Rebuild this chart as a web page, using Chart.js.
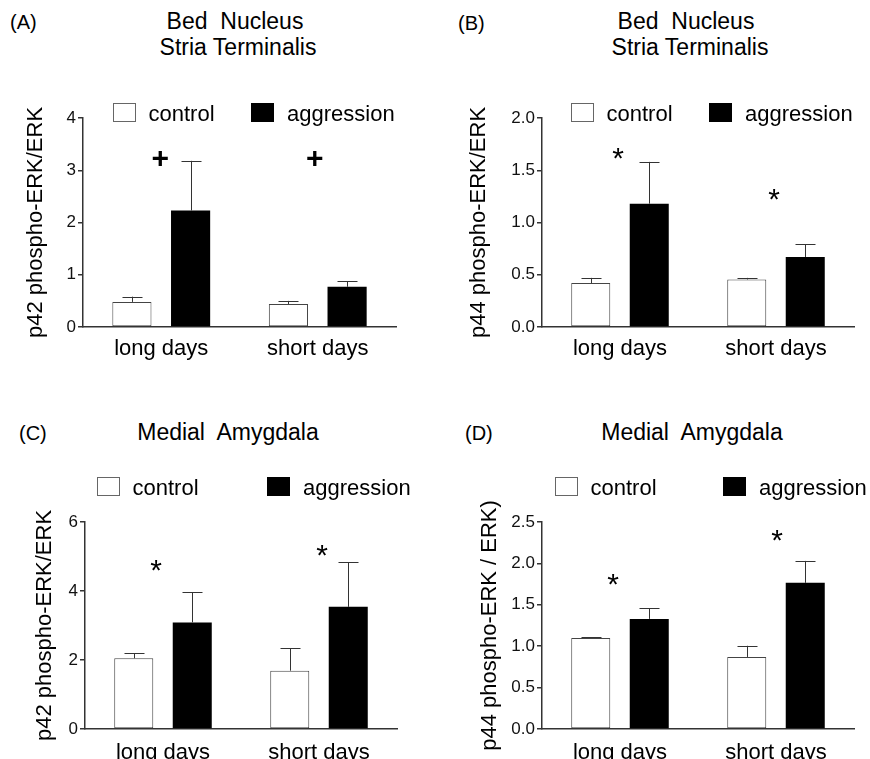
<!DOCTYPE html>
<html>
<head>
<meta charset="utf-8">
<script src="https://cdn.jsdelivr.net/npm/chart.js@4.4.0/dist/chart.umd.min.js"></script>
<style>
body { margin: 0; background: #fff; width: 870px; height: 759px; position: relative; overflow: hidden; font-family: "Liberation Sans", Arial, sans-serif; }
canvas { position: absolute; }
.lbl { position: absolute; font-size: 20px; line-height: 1; color: #000; white-space: pre; }
.ttl { position: absolute; font-size: 23px; line-height: 1; color: #000; white-space: pre; transform: translateX(-50%); }
</style>
</head>
<body>
<div class="lbl" style="left:10px;top:12px">(A)</div>
<div class="lbl" style="left:458px;top:13px">(B)</div>
<div class="lbl" style="left:19px;top:423px">(C)</div>
<div class="lbl" style="left:465px;top:423px">(D)</div>
<div class="ttl" style="left:235px;top:10px">Bed  Nucleus</div>
<div class="ttl" style="left:238px;top:36px">Stria Terminalis</div>
<div class="ttl" style="left:686px;top:10px">Bed  Nucleus</div>
<div class="ttl" style="left:690px;top:36px">Stria Terminalis</div>
<div class="ttl" style="left:228px;top:421px">Medial  Amygdala</div>
<div class="ttl" style="left:692px;top:421px">Medial  Amygdala</div>

<canvas id="chartA" width="435" height="380" style="left:0;top:0"></canvas>
<canvas id="chartB" width="435" height="380" style="left:435px;top:0"></canvas>
<canvas id="chartC" width="435" height="379" style="left:0;top:380px"></canvas>
<canvas id="chartD" width="435" height="379" style="left:435px;top:380px"></canvas>

<script>
// 数据
const categories = ['long days', 'short days'];
const groupNames = ['control', 'aggression'];

// (A) BNST p42
const aControl = [0.48, 0.44];
const aControlSem = [0.10, 0.06];
const aAggression = [2.23, 0.77];
const aAggressionSem = [0.95, 0.11];
const aMarks = ['+', '+'];
const aMarkLevel = [3.2, 3.2];

// (B) BNST p44
const bControl = [0.42, 0.455];
const bControlSem = [0.05, 0.015];
const bAggression = [1.18, 0.67];
const bAggressionSem = [0.40, 0.12];
const bMarks = ['*', '*'];
const bMarkLevel = [1.67, 1.28];

// (C) MeA p42
const cControl = [2.05, 1.69];
const cControlSem = [0.14, 0.65];
const cAggression = [3.09, 3.54];
const cAggressionSem = [0.87, 1.30];
const cMarks = ['*', '*'];
const cMarkLevel = [4.75, 5.21];

// (D) MeA p44
const dControl = [1.10, 0.87];
const dControlSem = [0.01, 0.135];
const dAggression = [1.33, 1.765];
const dAggressionSem = [0.13, 0.265];
const dMarks = ['*', '*'];
const dMarkLevel = [1.82, 2.35];

const FONT = '"Liberation Sans", Arial, sans-serif';

// 误差线、显著性标记、图例
const extrasPlugin = {
    id: 'panelExtras',
    afterDatasetsDraw(chart, args, opts) {
        const ctx = chart.ctx;
        const yScale = chart.scales.y;
        const xScale = chart.scales.x;
        ctx.save();
        // error bars (upper only)
        chart.data.datasets.forEach((ds, di) => {
            const meta = chart.getDatasetMeta(di);
            meta.data.forEach((bar, i) => {
                const yTop = yScale.getPixelForValue(ds.data[i] + ds.sem[i]);
                const x = Math.round(bar.x) + 0.5;
                ctx.strokeStyle = '#333';
                ctx.lineWidth = 1;
                ctx.beginPath();
                ctx.moveTo(x, bar.y);
                ctx.lineTo(x, yTop);
                ctx.moveTo(x - 10, Math.round(yTop) + 0.5);
                ctx.lineTo(x + 10, Math.round(yTop) + 0.5);
                ctx.stroke();
            });
        });
        // significance marks
        ctx.fillStyle = '#000';
        ctx.textAlign = 'center';
        ctx.textBaseline = 'middle';
        opts.marks.forEach((m, i) => {
            const x = xScale.getPixelForValue(i) + opts.markDx[i];
            let y = yScale.getPixelForValue(opts.markLevel[i]);
            if (m === '+') {
                ctx.font = 'bold 30px ' + FONT;
            } else {
                ctx.font = '30px ' + FONT;
                y += 7;
            }
            ctx.fillText(m, x, y);
        });
        // legend
        const ca = chart.chartArea;
        const lg = opts.legend;
        const by = Math.round(ca.top + lg.y) + 0.5;
        ctx.textAlign = 'left';
        ctx.textBaseline = 'alphabetic';
        ctx.font = '22px ' + FONT;
        const x1 = Math.round(ca.left + lg.x) + 0.5;
        ctx.fillStyle = '#fff';
        ctx.fillRect(x1, by, 22, 18);
        ctx.strokeStyle = '#666';
        ctx.lineWidth = 1;
        ctx.strokeRect(x1, by, 22, 18);
        ctx.fillStyle = '#000';
        ctx.fillText(groupNames[0], x1 + 35, by + 17);
        const x2 = Math.round(ca.left + lg.x2);
        ctx.fillRect(x2, by - 0.5, 23, 19);
        ctx.fillText(groupNames[1], x2 + 36, by + 17);
        ctx.restore();
    }
};

function makePanel(p) {
    const cv = document.getElementById(p.id);
    const H = cv.height;
    return new Chart(cv, {
        type: 'bar',
        data: {
            labels: categories,
            datasets: [{
                label: groupNames[0],
                data: p.control,
                sem: p.controlSem,
                backgroundColor: '#fff',
                borderColor: '#444',
                borderWidth: 1,
                borderSkipped: false
            }, {
                label: groupNames[1],
                data: p.aggression,
                sem: p.aggressionSem,
                backgroundColor: '#000',
                borderWidth: 0
            }]
        },
        options: {
            responsive: false,
            animation: false,
            layout: { padding: { left: 0, top: p.top, right: p.right, bottom: 0 } },
            datasets: { bar: { categoryPercentage: 0.75, barPercentage: 0.667 } },
            plugins: {
                legend: { display: false },
                tooltip: { enabled: false },
                panelExtras: { marks: p.marks, markLevel: p.markLevel, markDx: p.markDx, legend: p.legend }
            },
            scales: {
                x: {
                    grid: { display: false },
                    border: { display: true, color: '#333', width: 1.5 },
                    ticks: { color: '#000', font: { size: 22, family: FONT }, padding: p.xPad },
                    afterFit(s) { s.height = H - p.bottom; }
                },
                y: {
                    min: 0,
                    max: p.max,
                    ticks: {
                        stepSize: p.step,
                        color: '#111',
                        font: { size: 17, family: FONT },
                        padding: 2,
                        callback: v => v.toFixed(p.decimals)
                    },
                    grid: { drawOnChartArea: false, drawTicks: true, tickLength: 5, color: '#333', lineWidth: 1.5 },
                    border: { color: '#333', width: 1.5 },
                    title: { display: true, text: p.yTitle, color: '#000', font: { size: 22, family: FONT }, padding: { top: p.titlePad, bottom: 0 } },
                    afterFit(s) { s.width = p.left; }
                }
            }
        },
        plugins: [extrasPlugin]
    });
}

makePanel({ id: 'chartA', control: aControl, controlSem: aControlSem, aggression: aAggression, aggressionSem: aAggressionSem,
    max: 4, step: 1, decimals: 0, yTitle: 'p42 phospho-ERK/ERK', titlePad: 23,
    left: 83, right: 39, top: 118, bottom: 327, xPad: 1,
    marks: aMarks, markLevel: aMarkLevel, markDx: [-1, -3], legend: { x: 30, y: -15, x2: 168 } });

makePanel({ id: 'chartB', control: bControl, controlSem: bControlSem, aggression: bAggression, aggressionSem: bAggressionSem,
    max: 2, step: 0.5, decimals: 1, yTitle: 'p44 phospho-ERK/ERK', titlePad: 31,
    left: 107, right: 16, top: 118, bottom: 327, xPad: 1,
    marks: bMarks, markLevel: bMarkLevel, markDx: [-2, -2], legend: { x: 29, y: -15, x2: 167 } });

makePanel({ id: 'chartC', control: cControl, controlSem: cControlSem, aggression: cAggression, aggressionSem: cAggressionSem,
    max: 6, step: 2, decimals: 0, yTitle: 'p42 phospho-ERK/ERK', titlePad: 32,
    left: 85, right: 38, top: 142, bottom: 349, xPad: 3,
    marks: cMarks, markLevel: cMarkLevel, markDx: [-7, 3], legend: { x: 12, y: -45, x2: 182 } });

makePanel({ id: 'chartD', control: dControl, controlSem: dControlSem, aggression: dAggression, aggressionSem: dAggressionSem,
    max: 2.5, step: 0.5, decimals: 1, yTitle: 'p44 phospho-ERK / ERK)', titlePad: 42,
    left: 107, right: 16, top: 142, bottom: 349, xPad: 3,
    marks: dMarks, markLevel: dMarkLevel, markDx: [-7, 1], legend: { x: 13, y: -45, x2: 181 } });
</script>
</body>
</html>
